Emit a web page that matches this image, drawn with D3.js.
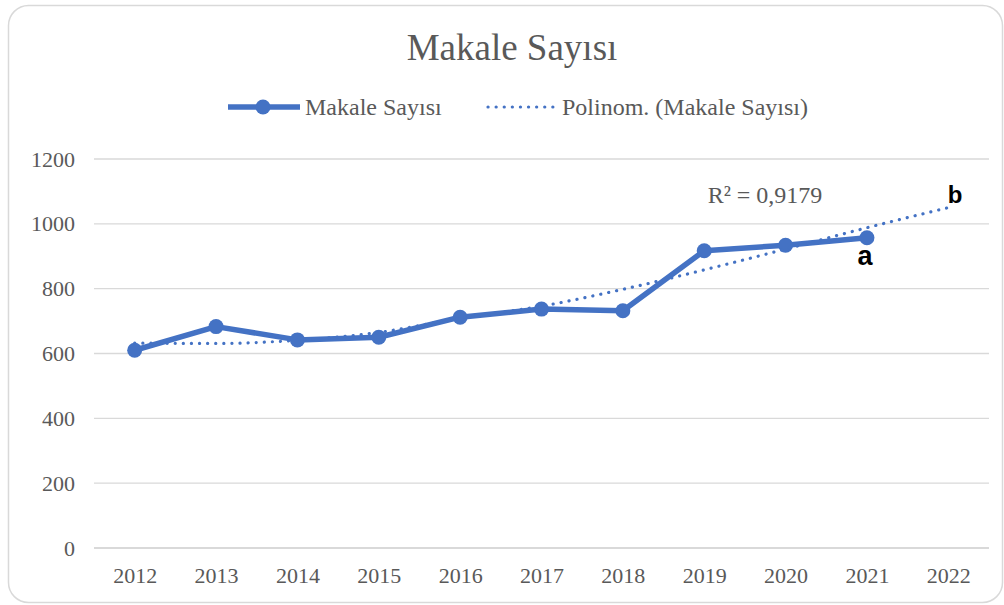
<!DOCTYPE html>
<html>
<head>
<meta charset="utf-8">
<script src="https://cdn.jsdelivr.net/npm/d3@7"></script>
<style>
  html, body { margin: 0; padding: 0; background: #fff; overflow: hidden; }
  svg { display: block; }
  svg text { font-family: "Liberation Serif", "Times New Roman", serif; fill: #595959; }
</style>
</head>
<body>
<div id="chart"></div>
<script>
// Data
const years = ["2012", "2013", "2014", "2015", "2016", "2017", "2018", "2019", "2020", "2021", "2022"];
const articles = [610, 683, 642, 650, 712, 737, 732, 917, 934, 957];
const trend = [632, 631, 641, 665, 709, 746, 798, 858, 922, 988, 1050];
const yTicks = [0, 200, 400, 600, 800, 1000, 1200];

const width = 1004, height = 605;
const margin = { top: 159, right: 15, bottom: 57, left: 94 };
const innerWidth = width - margin.left - margin.right;
const innerHeight = height - margin.top - margin.bottom;
const blue = "#4472C4";

const svg = d3.select("#chart")
    .append("svg")
    .attr("width", width)
    .attr("height", height);

// Chart frame
svg.append("rect")
    .attr("x", 8.5)
    .attr("y", 5.5)
    .attr("width", 994)
    .attr("height", 597)
    .attr("rx", 20)
    .attr("fill", "#fff")
    .attr("stroke", "#d9d9d9")
    .attr("stroke-width", 1.5);

// Title
svg.append("text")
    .attr("x", 512)
    .attr("y", 60)
    .attr("text-anchor", "middle")
    .style("font-size", "37px")
    .text("Makale Sayısı");

const inner = svg.append("g")
    .attr("transform", `translate(${margin.left},${margin.top})`);

const xScale = d3.scalePoint()
    .domain(years)
    .range([0, innerWidth])
    .padding(0.5);

const yScale = d3.scaleLinear()
    .domain([0, 1200])
    .range([innerHeight, 0]);

// Gridlines
inner.selectAll(".grid")
    .data(yTicks)
    .join("line")
    .attr("class", "grid")
    .attr("x1", 0)
    .attr("x2", innerWidth)
    .attr("y1", d => yScale(d))
    .attr("y2", d => yScale(d))
    .attr("stroke", "#d9d9d9")
    .attr("stroke-width", d => d === 0 ? 2 : 1.3);

// Y axis labels
const leftAxis = d3.axisLeft(yScale)
    .tickValues(yTicks)
    .tickFormat(d3.format("d"))
    .tickSize(0)
    .tickPadding(19);
inner.append("g")
    .call(leftAxis)
    .call(g => g.select(".domain").remove())
    .selectAll("text")
    .style("font-size", "22px")
    .attr("fill", "#595959");

// X axis labels
const bottomAxis = d3.axisBottom(xScale).tickSize(0).tickPadding(19);
inner.append("g")
    .attr("transform", `translate(0,${innerHeight})`)
    .call(bottomAxis)
    .call(g => g.select(".domain").remove())
    .selectAll("text")
    .style("font-size", "22px")
    .attr("fill", "#595959");

// Main line
const line = d3.line()
    .x((d, i) => xScale(years[i]))
    .y(d => yScale(d));

inner.append("path")
    .datum(articles)
    .attr("d", line)
    .attr("fill", "none")
    .attr("stroke", blue)
    .attr("stroke-width", 5.5)
    .attr("stroke-linejoin", "round");

inner.selectAll(".pt")
    .data(articles)
    .join("circle")
    .attr("class", "pt")
    .attr("cx", (d, i) => xScale(years[i]))
    .attr("cy", d => yScale(d))
    .attr("r", 7.5)
    .attr("fill", blue);

// Polynomial trend line (dotted)
const trendLine = d3.line()
    .x((d, i) => xScale(years[i]))
    .y(d => yScale(d))
    .curve(d3.curveMonotoneX);

inner.append("path")
    .datum(trend)
    .attr("d", trendLine)
    .attr("fill", "none")
    .attr("stroke", blue)
    .attr("stroke-width", 3.2)
    .attr("stroke-linecap", "round")
    .attr("stroke-dasharray", "0.1 8");

// R² label
svg.append("text")
    .attr("x", 765)
    .attr("y", 203)
    .attr("text-anchor", "middle")
    .style("font-size", "24px")
    .text("R² = 0,9179");

// a / b markers
svg.append("text")
    .attr("x", 865)
    .attr("y", 265)
    .attr("text-anchor", "middle")
    .style("font-family", "'Liberation Sans', Arial, sans-serif")
    .style("font-weight", "bold")
    .style("font-size", "27px")
    .style("fill", "#000")
    .text("a");

svg.append("text")
    .attr("x", 955)
    .attr("y", 203)
    .attr("text-anchor", "middle")
    .style("font-family", "'Liberation Sans', Arial, sans-serif")
    .style("font-weight", "bold")
    .style("font-size", "24px")
    .style("fill", "#000")
    .text("b");

// Legend
const legend = svg.append("g").attr("transform", "translate(0,107)");
legend.append("line")
    .attr("x1", 228).attr("x2", 300)
    .attr("stroke", blue).attr("stroke-width", 5.5);
legend.append("circle")
    .attr("cx", 263).attr("r", 7.5).attr("fill", blue);
legend.append("text")
    .attr("x", 305).attr("y", 8)
    .style("font-size", "24px")
    .text("Makale Sayısı");
legend.append("line")
    .attr("x1", 488).attr("x2", 556)
    .attr("stroke", blue).attr("stroke-width", 3.2)
    .attr("stroke-linecap", "round")
    .attr("stroke-dasharray", "0.1 8");
legend.append("text")
    .attr("x", 562).attr("y", 8)
    .style("font-size", "24px")
    .text("Polinom. (Makale Sayısı)");
</script>
</body>
</html>
